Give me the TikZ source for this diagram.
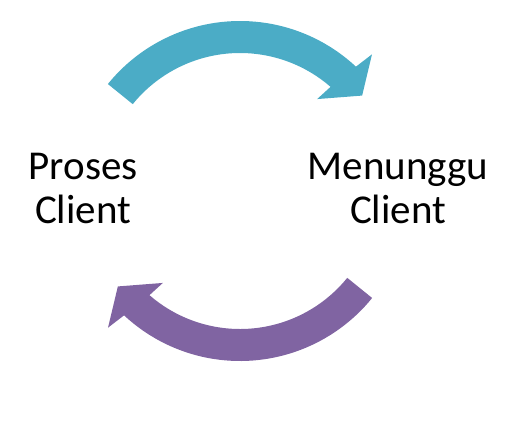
\documentclass[tikz,border=0pt]{standalone}
\usepackage{fontspec}
\setmainfont{Carlito}
\definecolor{arrowteal}{HTML}{4BACC6}
\definecolor{arrowpurple}{HTML}{8064A2}
\begin{document}
\begin{tikzpicture}[x=1pt,y=1pt,
  labeltext/.style={font=\fontsize{41}{44}\selectfont, align=center, inner sep=0pt}]
\useasboundingbox (0,0) rectangle (526,-423);
\begin{scope}[shift={(240,-191)}]
  % top teal arrow
  \fill[arrowteal] (141:170) arc[start angle=141,end angle=47,radius=170]
    -- (46:190) -- (38:155) -- (50:120) -- (49:138)
    arc[start angle=49,end angle=141,radius=138] -- cycle;
  % bottom purple arrow
  \fill[arrowpurple] (321:170) arc[start angle=321,end angle=227,radius=170]
    -- (226:190) -- (218:155) -- (230:120) -- (229:138)
    arc[start angle=229,end angle=321,radius=138] -- cycle;
\end{scope}
\node[labeltext, anchor=base] (proses) at (83,-223) {Proses\\Client};
\node[labeltext, anchor=base] (menunggu) at (398,-223) {Menunggu\\Client};
\end{tikzpicture}
\end{document}
